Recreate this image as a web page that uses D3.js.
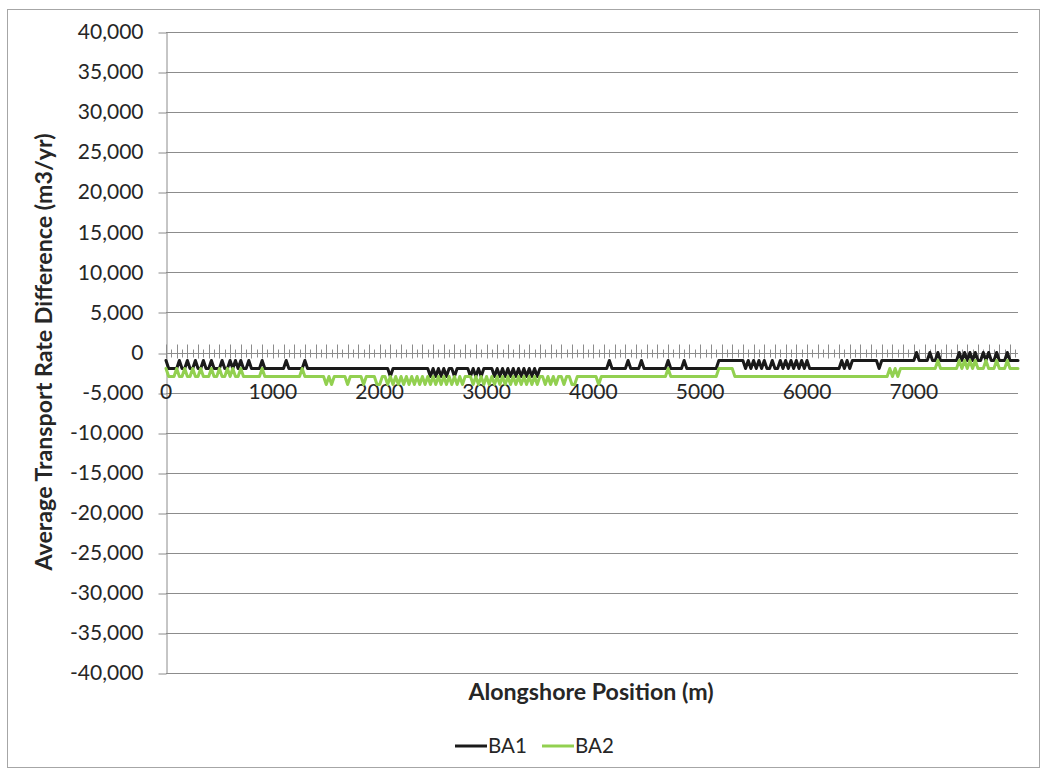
<!DOCTYPE html>
<html>
<head>
<meta charset="utf-8">
<script src="https://cdn.jsdelivr.net/npm/d3@7"></script>
<style>
  html, body { margin: 0; padding: 0; background: #ffffff; }
  svg { display: block; }
  text { font-family: Lato, "Open Sans", sans-serif; fill: #262626; }
</style>
</head>
<body>
<script>
// Alongshore positions (m), one sample every 25 m from 0 to 7975 m
const positions = d3.range(0, 8000, 25);

// Average transport rate difference (m3/yr) for each alongshore position
const ba1 = [
  -1000,-2000,-2000,-2000,-2000,-1000,-2000,-2000,-1000,-2000,-2000,-1000,-2000,-2000,-1000,-2000,-2000,-1000,-2000,-2000,
  -2000,-1000,-2000,-2000,-1000,-2000,-1000,-2000,-1000,-2000,-2000,-1000,-2000,-2000,-2000,-2000,-1000,-2000,-2000,-2000,
  -2000,-2000,-2000,-2000,-2000,-1000,-2000,-2000,-2000,-2000,-2000,-2000,-1000,-2000,-2000,-2000,-2000,-2000,-2000,-2000,
  -2000,-2000,-2000,-2000,-2000,-2000,-2000,-2000,-2000,-2000,-2000,-2000,-2000,-2000,-2000,-2000,-2000,-2000,-2000,-2000,
  -2000,-2000,-2000,-2000,-3000,-2000,-2000,-2000,-2000,-2000,-2000,-2000,-2000,-2000,-2000,-2000,-2000,-2000,-2000,-3000,
  -2000,-3000,-2000,-3000,-2000,-3000,-2000,-2000,-3000,-2000,-2000,-2000,-2000,-2000,-3000,-2000,-3000,-2000,-3000,-2000,
  -2000,-2000,-2000,-3000,-2000,-3000,-2000,-3000,-2000,-3000,-2000,-3000,-2000,-3000,-2000,-3000,-2000,-3000,-2000,-3000,
  -2000,-2000,-2000,-2000,-2000,-2000,-2000,-2000,-2000,-2000,-2000,-2000,-2000,-2000,-2000,-2000,-2000,-2000,-2000,-2000,
  -2000,-2000,-2000,-2000,-2000,-2000,-1000,-2000,-2000,-2000,-2000,-2000,-2000,-1000,-2000,-2000,-2000,-2000,-1000,-2000,
  -2000,-2000,-2000,-2000,-2000,-2000,-2000,-2000,-1000,-2000,-2000,-2000,-2000,-2000,-1000,-2000,-2000,-2000,-2000,-2000,
  -2000,-2000,-2000,-2000,-2000,-2000,-2000,-1000,-1000,-1000,-1000,-1000,-1000,-1000,-1000,-1000,-1000,-2000,-1000,-2000,
  -1000,-2000,-1000,-2000,-1000,-2000,-2000,-1000,-2000,-2000,-1000,-2000,-1000,-2000,-1000,-2000,-1000,-2000,-1000,-2000,
  -1000,-2000,-2000,-2000,-2000,-2000,-2000,-2000,-2000,-2000,-2000,-2000,-2000,-1000,-2000,-1000,-2000,-1000,-1000,-1000,
  -1000,-1000,-1000,-1000,-1000,-1000,-1000,-2000,-1000,-1000,-1000,-1000,-1000,-1000,-1000,-1000,-1000,-1000,-1000,-1000,
  -1000,0,-1000,-1000,-1000,-1000,0,-1000,-1000,0,-1000,-1000,-1000,-1000,-1000,-1000,-1000,0,-1000,0,
  -1000,0,-1000,0,-1000,-1000,0,-1000,0,-1000,-1000,0,-1000,-1000,-1000,0,-1000,-1000,-1000,-1000
];

const ba2 = [
  -2000,-3000,-3000,-3000,-2000,-3000,-3000,-2000,-3000,-3000,-2000,-3000,-3000,-2000,-3000,-3000,-3000,-2000,-3000,-3000,
  -2000,-3000,-3000,-2000,-3000,-2000,-3000,-3000,-2000,-3000,-3000,-3000,-3000,-3000,-3000,-3000,-2000,-3000,-3000,-3000,
  -3000,-3000,-3000,-3000,-3000,-3000,-3000,-3000,-3000,-3000,-3000,-2000,-3000,-3000,-3000,-3000,-3000,-3000,-3000,-3000,
  -4000,-3000,-4000,-3000,-3000,-3000,-3000,-3000,-4000,-3000,-3000,-3000,-3000,-3000,-4000,-3000,-3000,-3000,-3000,-4000,
  -4000,-3000,-3000,-4000,-3000,-4000,-3000,-4000,-3000,-4000,-3000,-4000,-3000,-4000,-3000,-4000,-3000,-4000,-3000,-4000,
  -3000,-4000,-3000,-4000,-3000,-4000,-3000,-4000,-3000,-4000,-3000,-4000,-3000,-3000,-3000,-4000,-3000,-4000,-3000,-4000,
  -3000,-4000,-3000,-4000,-3000,-4000,-3000,-4000,-3000,-4000,-3000,-4000,-3000,-4000,-3000,-4000,-3000,-4000,-3000,-4000,
  -3000,-3000,-4000,-3000,-4000,-3000,-4000,-3000,-3000,-4000,-3000,-3000,-4000,-4000,-3000,-3000,-3000,-3000,-3000,-3000,
  -3000,-3000,-4000,-3000,-3000,-3000,-3000,-3000,-3000,-3000,-3000,-3000,-3000,-3000,-3000,-3000,-3000,-3000,-3000,-3000,
  -3000,-3000,-3000,-3000,-3000,-3000,-3000,-3000,-2000,-3000,-3000,-3000,-3000,-3000,-3000,-3000,-3000,-3000,-3000,-3000,
  -3000,-3000,-3000,-3000,-3000,-3000,-3000,-2000,-2000,-2000,-2000,-2000,-2000,-3000,-3000,-3000,-3000,-3000,-3000,-3000,
  -3000,-3000,-3000,-3000,-3000,-3000,-3000,-3000,-3000,-3000,-3000,-3000,-3000,-3000,-3000,-3000,-3000,-3000,-3000,-3000,
  -3000,-3000,-3000,-3000,-3000,-3000,-3000,-3000,-3000,-3000,-3000,-3000,-3000,-3000,-3000,-3000,-3000,-3000,-3000,-3000,
  -3000,-3000,-3000,-3000,-3000,-3000,-3000,-3000,-3000,-3000,-3000,-2000,-3000,-2000,-3000,-2000,-2000,-2000,-2000,-2000,
  -2000,-2000,-2000,-2000,-2000,-2000,-2000,-2000,-2000,-1000,-2000,-2000,-2000,-2000,-2000,-2000,-2000,-1000,-2000,-1000,
  -2000,-1000,-2000,-1000,-2000,-2000,-2000,-1000,-2000,-2000,-2000,-1000,-2000,-2000,-2000,-1000,-2000,-2000,-2000,-2000
];

const seriesNames = ["BA1", "BA2"];
const seriesColors = ["#1a1a1a", "#92d050"];

// Axis ticks and their labels
const yTicks = [40000, 35000, 30000, 25000, 20000, 15000, 10000, 5000, 0,
                -5000, -10000, -15000, -20000, -25000, -30000, -35000, -40000];
const yTickLabels = ["40,000", "35,000", "30,000", "25,000", "20,000", "15,000", "10,000", "5,000", "0",
                     "-5,000", "-10,000", "-15,000", "-20,000", "-25,000", "-30,000", "-35,000", "-40,000"];
const xLabelTicks = [0, 1000, 2000, 3000, 4000, 5000, 6000, 7000];
const xTickLabels = ["0", "1000", "2000", "3000", "4000", "5000", "6000", "7000"];
const xMajorTicks = d3.range(0, 8000, 100);
const xMinorTicks = d3.range(50, 8000, 100);

const W = 1047, H = 770;
const plot = { left: 166, right: 1018, top: 32, bottom: 673 };
const gridColor = "#8c8c8c";

const svg = d3.select("body").append("svg")
  .attr("width", W).attr("height", H);

svg.append("rect").attr("width", W).attr("height", H).attr("fill", "#ffffff");

// chart frame
svg.append("rect")
  .attr("x", 7.5).attr("y", 9.5)
  .attr("width", 1032).attr("height", 758)
  .attr("fill", "none").attr("stroke", "#a6a6a6").attr("stroke-width", 1);

const x = d3.scaleLinear().domain([0, 7975]).range([plot.left, plot.right]);
const y = d3.scaleLinear().domain([-40000, 40000]).range([plot.bottom, plot.top]);

// horizontal gridlines
svg.append("g")
  .selectAll("line")
  .data(yTicks)
  .join("line")
  .attr("x1", plot.left).attr("x2", plot.right)
  .attr("y1", d => Math.round(y(d)) + 0.5).attr("y2", d => Math.round(y(d)) + 0.5)
  .attr("stroke", gridColor).attr("stroke-width", 1);

// value axis
const yAxis = svg.append("g")
  .attr("transform", `translate(${plot.left + 0.5},0)`)
  .call(d3.axisLeft(y)
    .tickValues(yTicks)
    .tickFormat((d, i) => yTickLabels[i])
    .tickSize(8)
    .tickSizeOuter(0)
    .tickPadding(15));
yAxis.select(".domain").attr("stroke", gridColor);
yAxis.selectAll(".tick line").attr("stroke", gridColor)
  .attr("transform", d => `translate(0,${Math.round(y(d)) + 0.5 - y(d)})`);
yAxis.selectAll(".tick text")
  .attr("font-family", "Lato, 'Open Sans', sans-serif")
  .attr("font-size", 21).attr("fill", "#262626");

// category axis along zero
const y0 = Math.round(y(0)) + 0.5;
const xAxis = svg.append("g").attr("transform", `translate(0,${y0})`);
xAxis.append("line")
  .attr("x1", plot.left).attr("x2", plot.right)
  .attr("y1", 0).attr("y2", 0)
  .attr("stroke", gridColor);
xAxis.append("g").selectAll("line")
  .data(xMajorTicks)
  .join("line")
  .attr("x1", d => Math.round(x(d)) + 0.5).attr("x2", d => Math.round(x(d)) + 0.5)
  .attr("y1", -9).attr("y2", 5)
  .attr("stroke", gridColor);
xAxis.append("g").selectAll("line")
  .data(xMinorTicks)
  .join("line")
  .attr("x1", d => Math.round(x(d)) + 0.5).attr("x2", d => Math.round(x(d)) + 0.5)
  .attr("y1", -4).attr("y2", 4)
  .attr("stroke", gridColor);

svg.append("g").selectAll("text")
  .data(xLabelTicks)
  .join("text")
  .attr("x", d => x(d))
  .attr("y", 399)
  .attr("text-anchor", "middle")
  .attr("font-size", 21)
  .text((d, i) => xTickLabels[i]);

// series lines
const line = d3.line()
  .x((d, i) => x(positions[i]))
  .y(d => y(d));

[ba1, ba2].forEach((vals, k) => {
  svg.append("path")
    .datum(vals)
    .attr("d", line)
    .attr("fill", "none")
    .attr("stroke", seriesColors[k])
    .attr("stroke-width", 3)
    .attr("stroke-linejoin", "round")
    .attr("stroke-linecap", "round");
});

// axis titles
svg.append("text")
  .attr("x", 591).attr("y", 700)
  .attr("text-anchor", "middle")
  .attr("font-size", 23.2).attr("font-weight", "bold")
  .attr("fill", "#0d0d0d")
  .text("Alongshore Position (m)");

svg.append("text")
  .attr("transform", "translate(52,352) rotate(-90)")
  .attr("text-anchor", "middle")
  .attr("font-size", 23.2).attr("font-weight", "bold")
  .attr("fill", "#0d0d0d")
  .text("Average Transport Rate Difference (m3/yr)");

// legend
const legend = svg.append("g");
const legendX = [455, 542];
seriesNames.forEach((name, k) => {
  legend.append("line")
    .attr("x1", legendX[k]).attr("x2", legendX[k] + 32)
    .attr("y1", 746).attr("y2", 746)
    .attr("stroke", seriesColors[k]).attr("stroke-width", 3);
  legend.append("text")
    .attr("x", legendX[k] + 33).attr("y", 753)
    .attr("font-size", 20.5)
    .text(name);
});
</script>
</body>
</html>
